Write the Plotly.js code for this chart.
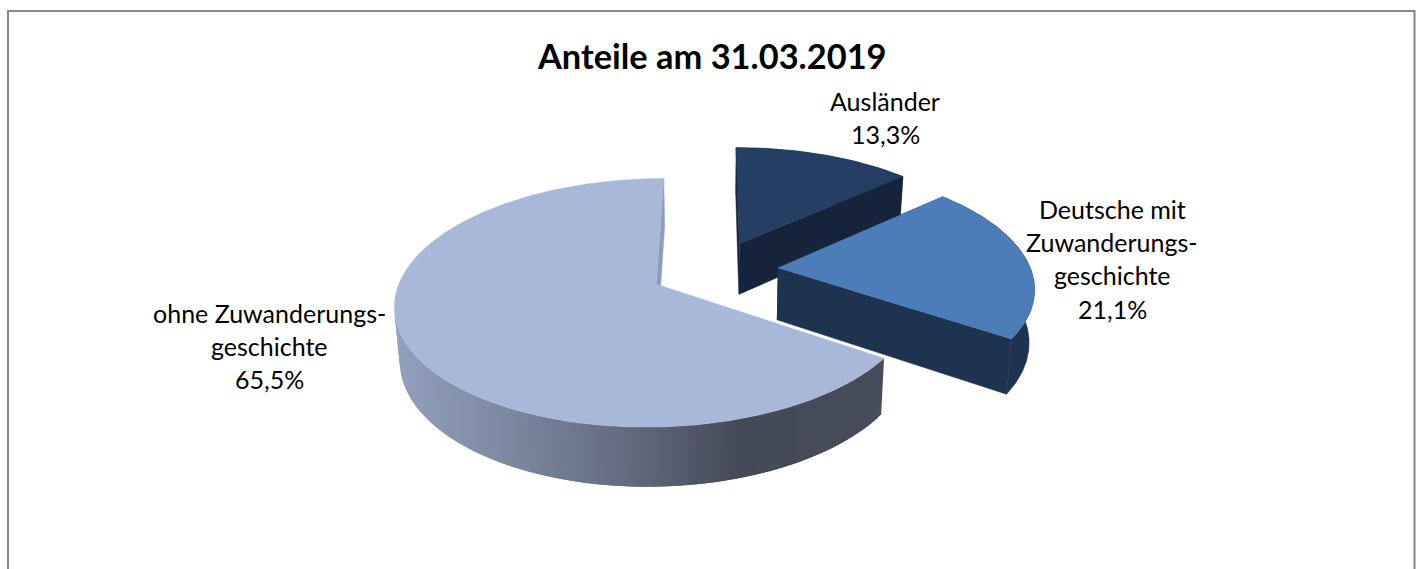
<!DOCTYPE html>
<html><head><meta charset="utf-8">
<script src="https://cdn.plot.ly/plotly-3.0.1.min.js"></script>
<style>html,body{margin:0;padding:0;background:#fff}#c{width:1419px;height:569px}</style>
</head><body><div id="c"></div>
<script>
const chartTitle = 'Anteile am 31.03.2019';
const categories = ['Ausländer', 'Deutsche mit Zuwanderungsgeschichte', 'ohne Zuwanderungsgeschichte'];
const values = [13.3, 21.1, 65.5];
const labelLines = [['Ausländer'], ['Deutsche mit', 'Zuwanderungs-', 'geschichte'], ['ohne Zuwanderungs-', 'geschichte']];
const topColors = ['#243f63', '#4c7db8', '#a8b8d8'];
const wallColors = ['#15243a', '#1e3350', null];
const gradX = [397, 500, 600, 680, 745, 885];
const gradRGB = [[146,160,189],[125,138,163],[105,115,136],[85,92,109],[67,73,87],[71,77,91]];
const labelCenters = [[885, 100.5], [1112, 209], [269, 313]];

// camera model, in pixels of the picture
const X0 = 714, Y0 = 270, A = 253, B = 117.3, K = 0.147, DEPTH = 52, SHRINK = 0.017, EXPLODE = 0.254;
const LINE_H = 33.2;

const total = values.reduce((a, b) => a + b, 0);
const starts = []; let acc = 0;
values.forEach(v => { starts.push(acc / total * 2 * Math.PI); acc += v; });
const ends = values.map((v, i) => starts[i] + v / total * 2 * Math.PI);

function project(ax, ay, th, r, low) {
  const X = ax + r * Math.sin(th), Y = ay - r * Math.cos(th);
  const s = 1 / (1 - K * Y), f = low ? 1 - SHRINK : 1;
  return [X0 + A * X * s * f, Y0 + B * Y * s * f + (low ? DEPTH * s : 0)];
}
function poly(pts, color, w) {
  return { type: 'scatter', mode: 'lines', x: pts.map(p => p[0]), y: pts.map(p => p[1]), fill: 'toself',
    fillcolor: color, line: { color: color, width: w === undefined ? 0.5 : w }, hoverinfo: 'skip', showlegend: false };
}
function gradColor(x) {
  let i = 0;
  while (i < gradX.length - 2 && x > gradX[i + 1]) i++;
  const t = Math.max(0, Math.min(1, (x - gradX[i]) / (gradX[i + 1] - gradX[i])));
  const c = gradRGB[i].map((v, k) => Math.round(v + (gradRGB[i + 1][k] - v) * t));
  return `rgb(${c.join(',')})`;
}
const traces = [];
values.forEach((v, i) => {
  const a0 = starts[i], a1 = ends[i], mid = (a0 + a1) / 2;
  const ax = EXPLODE * Math.sin(mid), ay = -EXPLODE * Math.cos(mid);
  const n = Math.ceil((a1 - a0) / 0.012);
  const arc = [];
  for (let k = 0; k <= n; k++) arc.push(a0 + (a1 - a0) * k / n);
  if (i === 2) {
    // visible rim only: from the slice start to the leftmost point of the top surface
    let last = 0;
    arc.forEach((t, k) => { if (project(ax, ay, t, 1, false)[0] < project(ax, ay, arc[last], 1, false)[0]) last = k; });
    const STEP = 2;
    for (let k = 0; k < last; k += STEP) {
      const sub = arc.slice(k, Math.min(last, k + 2 * STEP) + 1);
      const up = sub.map(t => project(ax, ay, t, 1, false));
      const dn = sub.slice().reverse().map(t => project(ax, ay, t, 1, true));
      traces.push(poly(up.concat(dn), gradColor(up[0][0]), 0));
    }
    // cut face at the end of the slice
    traces.push(poly([project(ax, ay, 0, 0, false), project(ax, ay, a1, 1, false), project(ax, ay, a1, 1, true), project(ax, ay, 0, 0, true)], '#8e9cba'));
  } else {
    const rim = arc.map(t => project(ax, ay, t, 1, false)).concat(arc.slice().reverse().map(t => project(ax, ay, t, 1, true)));
    traces.push(poly(rim, wallColors[i]));
    [a0, a1].forEach(t => traces.push(poly([project(ax, ay, 0, 0, false), project(ax, ay, t, 1, false), project(ax, ay, t, 1, true), project(ax, ay, 0, 0, true)], wallColors[i])));
  }
  const top = [project(ax, ay, 0, 0, false)].concat(arc.map(t => project(ax, ay, t, 1, false)));
  top.push(top[0]);
  traces.push(poly(top, topColors[i]));
});

const annotations = [];
function addText(text, x, y, size, bold) {
  annotations.push({ xref: 'x', yref: 'y', x, y, text: bold ? '<b>' + text + '</b>' : text, showarrow: false,
    xanchor: 'center', yanchor: 'middle', font: { family: 'Lato, Carlito, sans-serif', size, color: '#000' } });
}
values.forEach((v, i) => {
  const lines = labelLines[i].concat([v.toFixed(1).replace('.', ',') + '%']);
  lines.forEach((t, k) => addText(t, labelCenters[i][0], labelCenters[i][1] + k * LINE_H, 25, false));
});
addText(chartTitle, 711.5, 55, 34.4, true);

Plotly.newPlot('c', traces, {
  width: 1419, height: 569, margin: { l: 0, r: 0, t: 0, b: 0 }, paper_bgcolor: '#fff', plot_bgcolor: '#fff',
  showlegend: false,
  xaxis: { range: [0, 1419], visible: false, fixedrange: true },
  yaxis: { range: [569, 0], visible: false, fixedrange: true },
  annotations,
  shapes: [{ type: 'path', xref: 'x', yref: 'y', path: 'M8,569 L8,11 L1414.5,11 L1414.5,569', line: { color: '#868686', width: 2 } }]
}, { staticPlot: true, displayModeBar: false });
</script></body></html>
